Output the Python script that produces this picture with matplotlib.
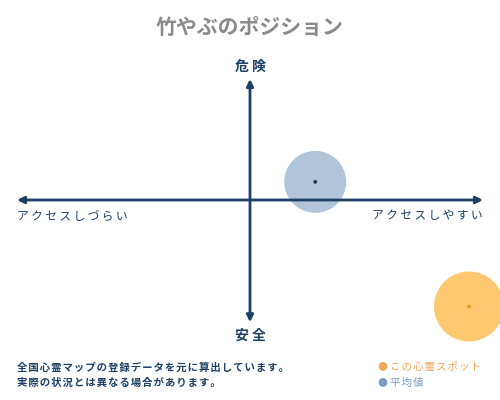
import matplotlib
matplotlib.use("Agg")
import matplotlib.pyplot as plt

plt.rcParams['font.family'] = ['Noto Sans CJK JP', 'DejaVu Sans']

# ポジション (横: アクセス, 縦: 危険度), 矢印の端を ±1 とする
labels = ['この心霊スポット', '平均値']
access = [0.94, 0.28]
danger = [-0.88, 0.15]
sizes = [2540, 1990]
fills = ['#fdc870', '#b0c4da']
dots = ['#f0a020', '#1a3a5c']
legend_colors = ['#f0a858', '#7a9cc0']

title = '竹やぶのポジション'
axis_top, axis_bottom = '危 険', '安 全'
axis_left, axis_right = 'アクセスしづらい', 'アクセスしやすい'
notes = ['全国心霊マップの登録データを元に算出しています。',
         '実際の状況とは異なる場合があります。']

navy = '#1d3f66'


def spaced(s, sp='\u2009'):
    # 字間を少し広げる
    return sp.join(s)


fig = plt.figure(figsize=(5, 4), dpi=100)
ax = fig.add_axes([0, 0, 1, 1])
# 1 単位 = 横233px, 縦121px, 原点 (250, 200)
ax.set_xlim(-250 / 233, 250 / 233)
ax.set_ylim(-200 / 121, 200 / 121)
ax.axis('off')

ax.scatter(access, danger, s=sizes, c=fills, edgecolors='none', zorder=1)
ax.scatter(access, danger, s=3, c=dots, zorder=3)

arrow = dict(arrowstyle='<|-|>', color=navy, lw=2, mutation_scale=10, shrinkA=0, shrinkB=0)
ax.annotate('', xy=(-1, 0), xytext=(1, 0), arrowprops=arrow, zorder=2)
ax.annotate('', xy=(0, 1), xytext=(0, -1.01), arrowprops=arrow, zorder=2)

fig.text(0.5, 0.93, title, ha='center', va='center', fontsize=15, color='#8a8a8a', fontweight='bold')
fig.text(0.5, 0.832, axis_top, ha='center', va='center', fontsize=10, color=navy, fontweight='bold')
fig.text(0.5, 0.162, axis_bottom, ha='center', va='center', fontsize=10, color=navy, fontweight='bold')
fig.text(0.034, 0.46, spaced(axis_left), ha='left', va='center', fontsize=8.5, color=navy)
fig.text(0.966, 0.46, spaced(axis_right), ha='right', va='center', fontsize=8.5, color=navy)

for i, line in enumerate(notes):
    fig.text(0.034, 0.082 - i * 0.04, spaced(line, '\u200a'), ha='left', va='center',
             fontsize=7.5, color=navy, fontweight='bold')

for i, (lab, col) in enumerate(zip(labels, legend_colors)):
    y = 0.082 - i * 0.04
    ax.scatter([0.766], [y + 0.002], s=40, c=col, edgecolors='none',
               transform=fig.transFigure, clip_on=False)
    fig.text(0.779, y, spaced(lab, '\u200a'), ha='left', va='center', fontsize=7.6, color=col)

fig.savefig('out.png', dpi=100)
